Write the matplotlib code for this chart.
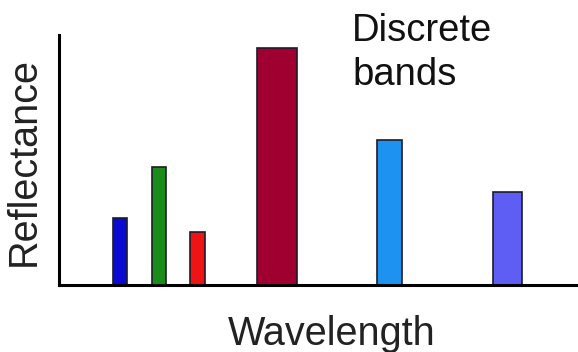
import matplotlib
matplotlib.use("Agg")
import matplotlib.pyplot as plt

# band centres / widths along the (unitless) wavelength axis, and reflectance
band_pos = [1.175, 1.927, 2.669, 4.200, 6.368, 8.642]
band_width = [0.27, 0.27, 0.29, 0.77, 0.48, 0.56]
reflectance = [0.268, 0.472, 0.212, 0.948, 0.580, 0.372]
band_colors = ["#0a0ad2", "#1a8c1a", "#ee1414", "#a0002f", "#1e92f0", "#5e5ef5"]

plt.rcParams['font.family'] = ['Liberation Sans', 'DejaVu Sans']

fig = plt.figure(figsize=(5.78, 3.52), dpi=100)
ax = fig.add_axes([59/578, 67/352, 1 - 59/578, (285-35)/352])

ax.bar(band_pos, reflectance, width=band_width, color=band_colors,
       edgecolor="#1c1c2c", linewidth=1.2, zorder=2)

ax.set_xlim(0, 10)
ax.set_ylim(0, 1)
for s in ["top", "right"]:
    ax.spines[s].set_visible(False)
for s in ["left", "bottom"]:
    ax.spines[s].set_linewidth(2.2)
    ax.spines[s].set_color("black")
    ax.spines[s].set_zorder(3)
ax.set_xticks([])
ax.set_yticks([])

fig.text(352/578, 1 - 13/352, "Discrete\nbands", fontsize=27.5, va="top", ha="left",
         color="#111111", linespacing=1.3)
fig.text(24/578, 1 - 161/352, "Reflectance", fontsize=28.5, rotation=90,
         va="center", ha="center", color="#222222")
fig.text(332/578, 1 - 345/352, "Wavelength", fontsize=28.5, va="baseline",
         ha="center", color="#222222")

fig.savefig("out.png", dpi=100)
